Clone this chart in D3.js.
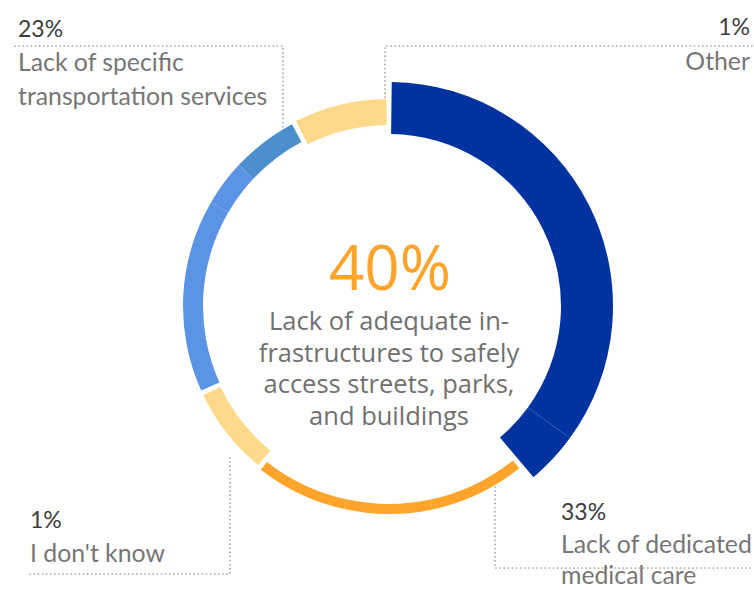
<!DOCTYPE html>
<html><head><meta charset="utf-8">
<script src="https://cdn.jsdelivr.net/npm/d3@7"></script>
<style>body{margin:0;background:#fff}svg{display:block}</style>
</head><body>
<svg id="chart" width="754" height="590"></svg>
<script>
// ---- data ----
const segmentGroups = ["infra","infra","medical","medical","medical","dontknow","transport","transport","transport","other"];
const segmentShares = [35.0, 4.0, 7.6, 6.8, 7.3, 7.3, 15.3, 3.6, 5.4, 7.6];
const groupKeys     = ["transport","other","medical","dontknow"];
const groupPercents = ["23%","1%","33%","1%"];
const groupLabels   = [["Lack of specific","transportation services"],["Other"],["Lack of dedicated","medical care"],["I don't know"]];
const centerValue   = "40%";
const centerLabel   = ["Lack of adequate in-","frastructures to safely","access streets, parks,","and buildings"];

// ---- styles ----
const segmentColors = ["#0033a0","#0033a0","#ffa42b","#ffa42b","#ffa42b","#ffd98b","#5b93e5","#5b93e5","#4d8fcc","#ffd98b"];
const groupRadii = {infra:[172,224], medical:[198,208], dontknow:[187,206], transport:[186,206], other:[181,207]};
const cx = 389, cy = 306;
const pad = 0.7 * Math.PI/180;

const svg = d3.select("#chart");
const g = svg.append("g").attr("transform",`translate(${cx},${cy})`);

const data = segmentShares.map((v,i)=>({v, group: segmentGroups[i], color: segmentColors[i]}));
const arcs = d3.pie().sort(null).value(d=>d.v)(data);
const n = arcs.length;
arcs.forEach((a,i)=>{
  const prev = arcs[(i-1+n)%n], next = arcs[(i+1)%n];
  if (prev.data.group !== a.data.group) a.startAngle += pad;
  if (next.data.group !== a.data.group) a.endAngle -= pad;
});
const arc = d3.arc()
  .innerRadius(d=>groupRadii[d.data.group][0])
  .outerRadius(d=>groupRadii[d.data.group][1]);
g.selectAll("path.seg").data(arcs).join("path")
  .attr("class","seg").attr("d",arc).attr("fill",d=>d.data.color);

// center text
g.append("text").attr("x",1).attr("y",-16).attr("text-anchor","middle")
  .attr("font-family","'Open Sans', 'Noto Sans', sans-serif").attr("font-size",62)
  .attr("fill","#ffa42b").text(centerValue);
const lineH = d3.scaleLinear().domain([0,1]).range([24,55.5]);
centerLabel.forEach((t,i)=>{
  g.append("text").attr("x",0).attr("y",lineH(i)).attr("text-anchor","middle")
   .attr("font-family","'Open Sans', 'Noto Sans', sans-serif").attr("font-size",25.5)
   .attr("fill","#707070").text(t);
});

// leader lines (dotted)
const dot = sel => sel.attr("fill","none").attr("stroke","#a0a0a0").attr("stroke-width",1.7)
  .attr("stroke-dasharray","0.1,4").attr("stroke-linecap","round");
const leaders = [
  [[15,46],[283,46],[283,127]],
  [[752,46],[385,46],[385,100]],
  [[495,487],[495,568],[754,568]],
  [[230,458],[230,574],[30,574]]
];
leaders.forEach(p=> svg.append("path").attr("d",d3.line()(p)).call(dot));

// labels
const font = "'Lato', 'Noto Sans', sans-serif";
const labelPos = [
  {x:18, y:37, anchor:"start", ly:[71,105]},
  {x:750, y:35, anchor:"end", ly:[70]},
  {x:561, y:520, anchor:"start", ly:[553,584]},
  {x:30, y:528, anchor:"start", ly:[562]}
];
groupKeys.forEach((k,i)=>{
  const p = labelPos[i];
  svg.append("text").attr("x",p.x).attr("y",p.y).attr("text-anchor",p.anchor)
    .attr("font-family",font).attr("font-size",23).attr("fill","#3c3c3c").text(groupPercents[i]);
  groupLabels[i].forEach((t,j)=>{
    svg.append("text").attr("x",p.x).attr("y",p.ly[j]).attr("text-anchor",p.anchor)
      .attr("font-family",font).attr("font-size",24.8).attr("fill","#767676").text(t);
  });
});
</script>
</body></html>
